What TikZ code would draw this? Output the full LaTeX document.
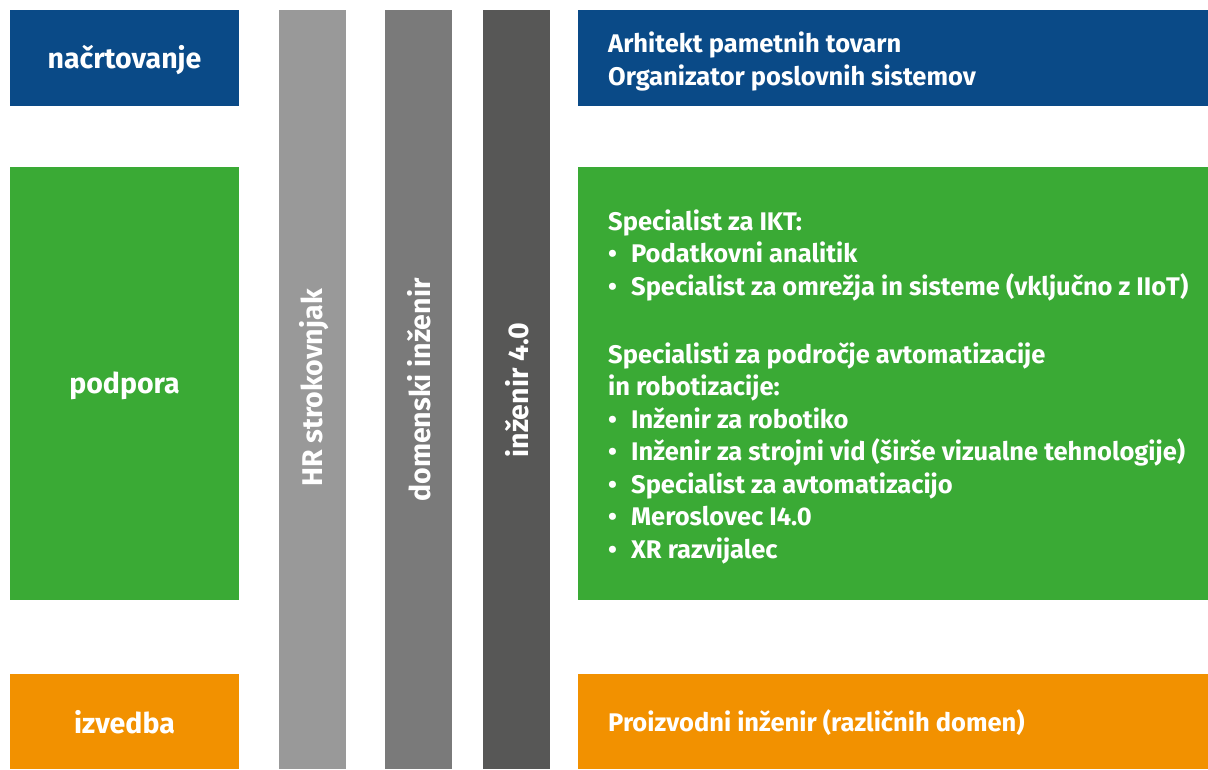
\documentclass[tikz,border=0pt]{standalone}
\usepackage{fontspec}
\setmainfont{Fira Sans}
\definecolor{cblue}{HTML}{0A4A87}
\definecolor{cgreen}{HTML}{3AAA35}
\definecolor{corange}{HTML}{F29100}
\definecolor{cg1}{HTML}{999999}
\definecolor{cg2}{HTML}{7A7A7A}
\definecolor{cg3}{HTML}{575756}
\newcommand{\bitem}[1]{\makebox[23pt][l]{\textbullet}#1}
\begin{document}
\begin{tikzpicture}[x=1pt,y=-1pt,
  lbl/.style={text=white,font=\fontsize{25.5}{32.5}\selectfont\bfseries,inner sep=0pt},
  clbl/.style={text=white,font=\fontsize{28.5}{32}\selectfont\bfseries,inner sep=0pt},
  vlbl/.style={clbl,rotate=90}]
\useasboundingbox (0,0) rectangle (1208,769);
% gray bars
\fill[cg1] (279,10) rectangle (346,769);
\fill[cg2] (385,10) rectangle (452,769);
\fill[cg3] (483,10) rectangle (550,769);
\node[vlbl] (hr) at (314,388) {HR strokovnjak};
\node[vlbl] (dom) at (419,390) {domenski inženir};
\node[vlbl] (i40) at (517,390) {inženir 4.0};
% left boxes
\fill[cblue] (10,10) rectangle (239,106);
\fill[cgreen] (10,167) rectangle (239,600);
\fill[corange] (10,674) rectangle (239,769);
\node[clbl] (nac) at (124.5,60) {načrtovanje};
\node[clbl] (pod) at (124.5,386) {podpora};
\node[clbl] (izv) at (124.5,722) {izvedba};
% right boxes
\fill[cblue] (578,10) rectangle (1208,106);
\fill[cgreen] (578,167) rectangle (1208,600);
\fill[corange] (578,674) rectangle (1208,769);
\node[lbl,anchor=base west,align=left] (arh) at (608,85) {Arhitekt pametnih tovarn\\Organizator poslovnih sistemov};
\node[lbl,anchor=base west,align=left] (spec) at (608,558) {Specialist za IKT:\\
\bitem{Podatkovni analitik}\\
\bitem{Specialist za omrežja in sisteme (vključno z IIoT)}\\[35.5pt]
Specialisti za področje avtomatizacije\\
in robotizacije:\\
\bitem{Inženir za robotiko}\\
\bitem{Inženir za strojni vid (širše vizualne tehnologije)}\\
\bitem{Specialist za avtomatizacijo}\\
\bitem{Meroslovec I4.0}\\
\bitem{XR razvijalec}};
\node[lbl,anchor=base west] (pro) at (608,731) {Proizvodni inženir (različnih domen)};
\end{tikzpicture}
\end{document}
